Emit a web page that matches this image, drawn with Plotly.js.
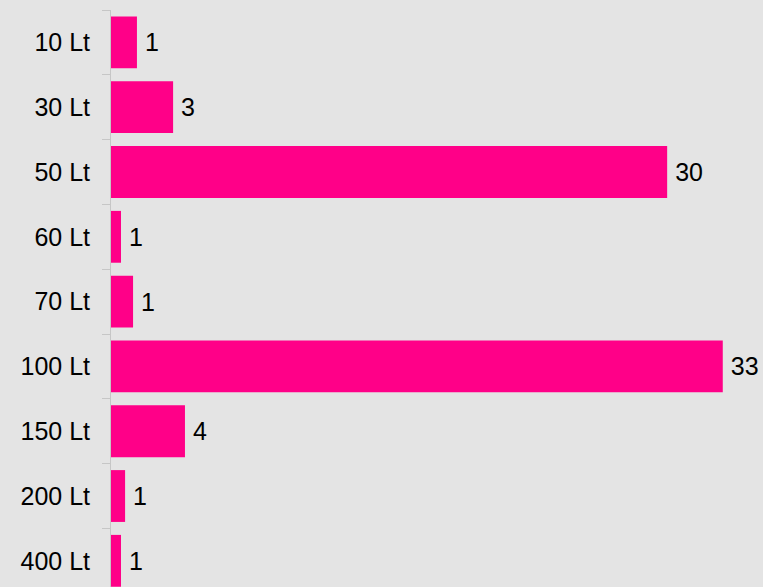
<!DOCTYPE html>
<html>
<head>
<meta charset="utf-8">
<script src="https://cdn.plot.ly/plotly-3.0.1.min.js"></script>
<style>
  html, body { margin: 0; padding: 0; background: #e4e4e4; }
  #chart { width: 763px; height: 587px; }
</style>
</head>
<body>
<div id="chart"></div>
<script>
// Capacity categories (top to bottom) and their values (bar lengths)
const categories = ['10 Lt', '30 Lt', '50 Lt', '60 Lt', '70 Lt', '100 Lt', '150 Lt', '200 Lt', '400 Lt'];
const values = [1.4, 3.35, 30, 0.54, 1.19, 33, 3.99, 0.76, 0.54];

const trace = {
  type: 'bar',
  orientation: 'h',
  y: categories,
  x: values,
  marker: { color: '#ff0088' },
  width: 0.8,
  texttemplate: '\u2009%{x:.0f}',
  textposition: 'outside',
  constraintext: 'none',
  cliponaxis: false,
  textfont: { family: 'Liberation Sans, Arial, sans-serif', size: 25, color: '#000000' },
  hoverinfo: 'none'
};

const layout = {
  width: 763,
  height: 587,
  margin: { l: 111, r: 0, t: 10, b: 0, pad: 0 },
  paper_bgcolor: '#e4e4e4',
  plot_bgcolor: '#e4e4e4',
  showlegend: false,
  font: { family: 'Liberation Sans, Arial, sans-serif', size: 25, color: '#000000' },
  xaxis: {
    visible: false,
    range: [0, 35.17],
    showgrid: false,
    zeroline: false
  },
  yaxis: {
    type: 'category',
    categoryorder: 'array',
    categoryarray: categories,
    autorange: false,
    range: [8.404, -0.5],
    showgrid: false,
    zeroline: false,
    showline: true,
    linecolor: '#c6c6c6',
    linewidth: 1,
    ticks: 'outside',
    tickson: 'boundaries',
    ticklen: 8,
    tickcolor: '#c6c6c6',
    tickwidth: 1,
    ticklabelstandoff: 15,
    tickfont: { family: 'Liberation Sans, Arial, sans-serif', size: 25, color: '#000000' }
  }
};

Plotly.newPlot('chart', [trace], layout, { displayModeBar: false, staticPlot: true });
</script>
</body>
</html>
